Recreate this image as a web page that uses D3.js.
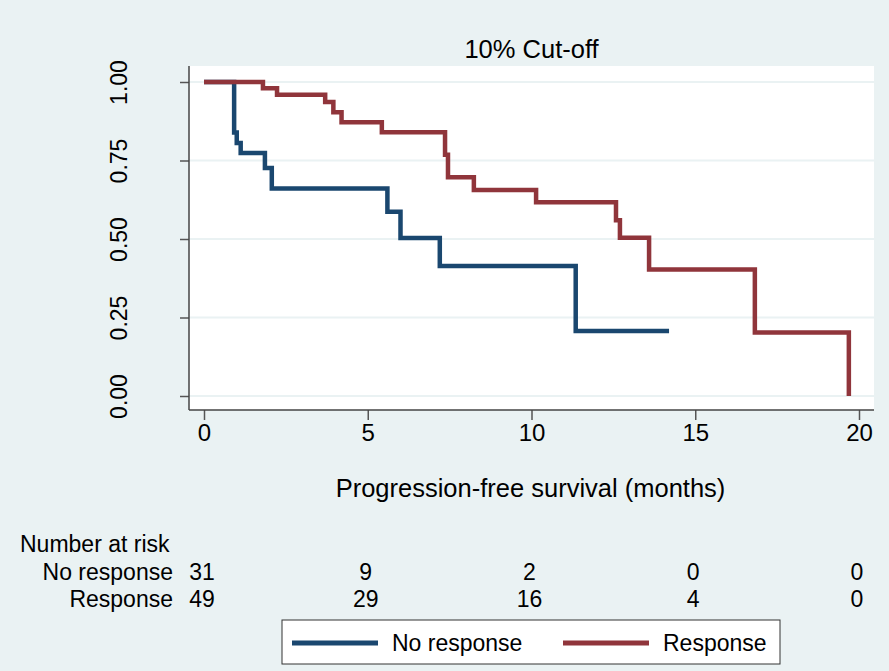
<!DOCTYPE html>
<html lang="en">
<head>
    <meta charset="UTF-8">
    <title>10% Cut-off - Kaplan-Meier</title>
    <script src="https://d3js.org/d3.v7.min.js"></script>
    <style>
        body { margin: 0; }
        text { font-family: "Liberation Sans", Arial, sans-serif; fill: #000; }
    </style>
</head>
<body>
    <svg id="km" width="889" height="671"></svg>

    <script>
        // Kaplan-Meier steps
        const noRespTime = [0, 0.92, 1.0, 1.12, 1.86, 2.07, 5.6, 6.0, 7.2, 11.35, 14.2];
        const noRespSurv = [1, 0.839, 0.806, 0.774, 0.726, 0.661, 0.587, 0.503, 0.414, 0.207, 0.207];

        const respTime = [0, 1.8, 2.23, 3.7, 3.95, 4.2, 5.43, 7.36, 7.45, 8.24, 10.14, 12.58, 12.7, 13.59, 16.82, 19.69];
        const respSurv = [1, 0.98, 0.959, 0.936, 0.904, 0.872, 0.84, 0.768, 0.697, 0.656, 0.617, 0.56, 0.504, 0.403, 0.202, 0];

        const xTicks = [0, 5, 10, 15, 20];
        const yTicks = [0, 0.25, 0.5, 0.75, 1];

        const groups = ["No response", "Response"];
        const atRisk = [
            [31, 9, 2, 0, 0],
            [49, 29, 16, 4, 0]
        ];
        const colors = ["#1a476f", "#90353b"];

        const svg = d3.select("#km");
        const width = +svg.attr("width");
        const height = +svg.attr("height");

        // background and plot region
        svg.append("rect").attr("width", width).attr("height", height).attr("fill", "#eaf2f3");

        const plot = { left: 189, right: 874, top: 66, bottom: 410 };
        svg.append("rect")
            .attr("x", plot.left).attr("y", plot.top)
            .attr("width", plot.right - plot.left).attr("height", plot.bottom - plot.top)
            .attr("fill", "#fff");

        const x = d3.scaleLinear().domain([0, 20]).range([204, 859]);
        const y = d3.scaleLinear().domain([0, 1]).range([396, 82]);

        // grid lines
        svg.append("g").selectAll("line").data(yTicks).join("line")
            .attr("x1", plot.left).attr("x2", plot.right)
            .attr("y1", d => y(d)).attr("y2", d => y(d))
            .attr("stroke", "#eaf2f3").attr("stroke-width", 2);

        // axes
        const xAxis = svg.append("g")
            .attr("transform", `translate(0,${plot.bottom})`)
            .call(d3.axisBottom(x).tickValues(xTicks).tickFormat(d3.format("d")).tickSize(10).tickPadding(4));
        const yAxis = svg.append("g")
            .attr("transform", `translate(${plot.left},0)`)
            .call(d3.axisLeft(y).tickValues(yTicks).tickFormat(d3.format(".2f")).tickSize(9));

        [xAxis, yAxis].forEach(g => {
            g.select(".domain").remove();
            g.selectAll(".tick line").attr("stroke", "#555").attr("stroke-width", 1.5);
        });
        xAxis.selectAll(".tick text").attr("font-size", 24).attr("dy", "0.71em");
        yAxis.selectAll(".tick text")
            .attr("font-size", 23)
            .attr("x", null).attr("dy", null)
            .attr("text-anchor", "middle")
            .attr("transform", "translate(-62,0) rotate(-90)");

        svg.append("line")
            .attr("x1", plot.left).attr("x2", plot.right)
            .attr("y1", plot.bottom).attr("y2", plot.bottom)
            .attr("stroke", "#444").attr("stroke-width", 1.5);
        svg.append("line")
            .attr("x1", plot.left).attr("x2", plot.left)
            .attr("y1", plot.top).attr("y2", plot.bottom)
            .attr("stroke", "#444").attr("stroke-width", 1.5);

        // survival curves
        const line = d3.line()
            .x(d => x(d[0]))
            .y(d => y(d[1]))
            .curve(d3.curveStepAfter);

        const series = [
            d3.zip(noRespTime, noRespSurv),
            d3.zip(respTime, respSurv)
        ];
        svg.append("g").selectAll("path").data(series).join("path")
            .attr("d", line)
            .attr("fill", "none")
            .attr("stroke", (d, i) => colors[i])
            .attr("stroke-width", 4.5)
            .attr("stroke-linejoin", "miter");

        // titles
        svg.append("text")
            .attr("x", (plot.left + plot.right) / 2).attr("y", 58)
            .attr("text-anchor", "middle").attr("font-size", 25.5)
            .text("10% Cut-off");
        svg.append("text")
            .attr("x", (plot.left + plot.right) / 2 - 1).attr("y", 497)
            .attr("text-anchor", "middle").attr("font-size", 25.5)
            .text("Progression-free survival (months)");

        // number at risk table
        svg.append("text").attr("x", 20).attr("y", 552).attr("font-size", 23).text("Number at risk");
        const rowY = [580, 607];
        groups.forEach((g, i) => {
            svg.append("text")
                .attr("x", 173).attr("y", rowY[i])
                .attr("text-anchor", "end").attr("font-size", 23)
                .text(g);
            svg.append("g").selectAll("text").data(atRisk[i]).join("text")
                .attr("x", (d, j) => x(xTicks[j]) - 2)
                .attr("y", rowY[i])
                .attr("text-anchor", "middle").attr("font-size", 23)
                .text(d => d);
        });

        // legend
        svg.append("rect")
            .attr("x", 282).attr("y", 620).attr("width", 498).attr("height", 44)
            .attr("fill", "#fff").attr("stroke", "#333").attr("stroke-width", 1);
        const legX = [292, 563];
        groups.forEach((g, i) => {
            svg.append("line")
                .attr("x1", legX[i]).attr("x2", legX[i] + 86)
                .attr("y1", 643).attr("y2", 643)
                .attr("stroke", colors[i]).attr("stroke-width", 5);
            svg.append("text")
                .attr("x", legX[i] + 100).attr("y", 651)
                .attr("font-size", 23)
                .text(g);
        });
    </script>
</body>
</html>
